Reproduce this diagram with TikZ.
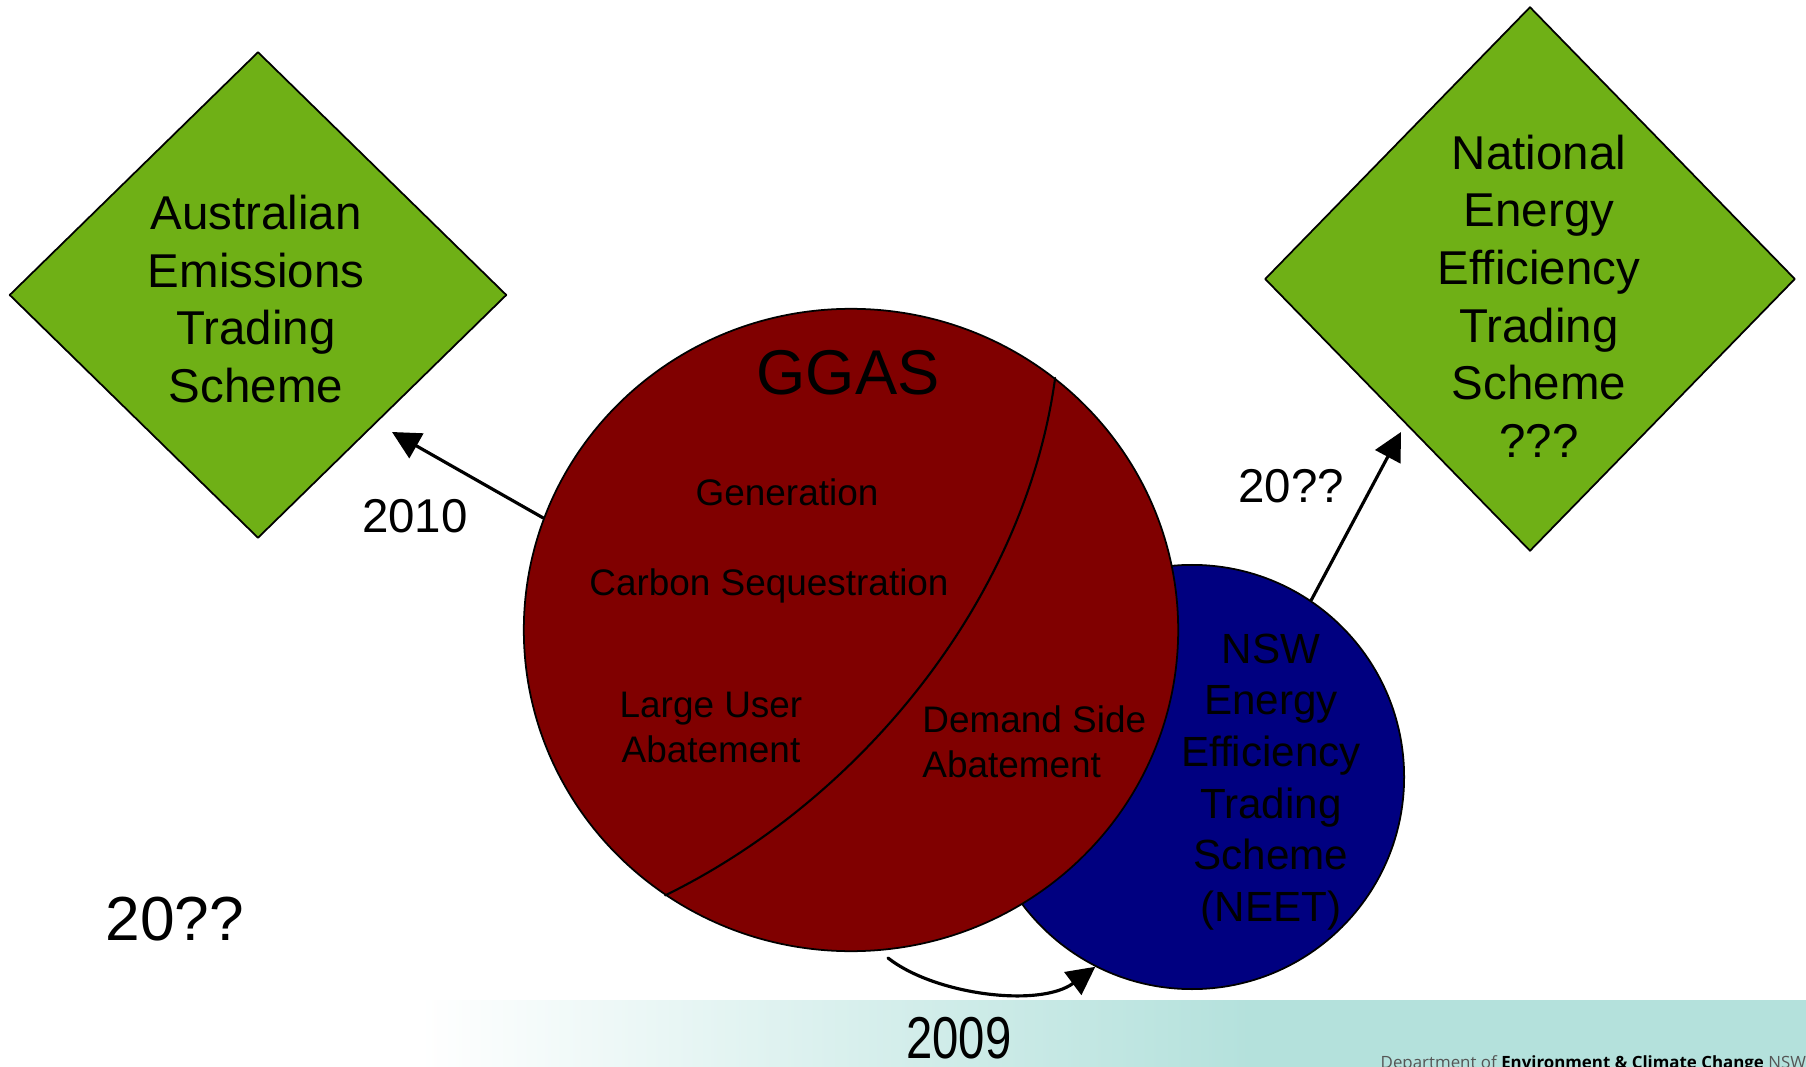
\documentclass[tikz,border=0pt]{standalone}
\usepackage{fontspec}
\setmainfont{Liberation Sans}
\newfontfamily\deptfont{Open Sans}
\usetikzlibrary{shapes.geometric,arrows.meta}
\definecolor{ggasred}{RGB}{128,0,0}
\definecolor{neetblue}{RGB}{0,0,128}
\definecolor{schemegreen}{RGB}{111,176,22}
\definecolor{barteal}{RGB}{180,225,220}
\definecolor{deptgrey}{RGB}{85,85,85}

\begin{document}
\begin{tikzpicture}[line cap=round, line join=round, x=0.01cm, y=-0.01cm,
    scheme/.style={diamond, draw=black, line width=0.5pt, fill=schemegreen, inner sep=0pt},
    big/.style={font=\fontsize{13.5}{16.4}\selectfont, align=center},
    small/.style={font=\fontsize{10.5}{12.8}\selectfont, align=center},
    move/.style={-{Triangle[length=8pt,width=8pt]}, line width=0.9pt}]
                \useasboundingbox (0,0) rectangle (1806,1067);
                % bottom bar
                \shade[left color=white, right color=barteal] (420,1000) rectangle (1250,1067);
                \fill[barteal] (1250,1000) rectangle (1806,1067);
                \node[anchor=base west, inner sep=0pt, font=\deptfont\fontsize{4.8}{5}\selectfont] (dept) at (1380,1068)
                    {\textcolor{deptgrey}{Department of} \textbf{Environment \& Climate Change} \textcolor{deptgrey}{NSW}};
                % schemes
                \node[scheme, minimum width=4.97cm, minimum height=4.86cm] (aets) at (258,295) {};
                \node[scheme, minimum width=5.30cm, minimum height=5.44cm] (nets) at (1530,279) {};
                \node[circle, draw=black, line width=0.5pt, fill=neetblue, minimum size=4.24cm] (neet) at (1192,777) {};
                \node[ellipse, draw=black, line width=0.5pt, fill=ggasred, minimum width=6.54cm, minimum height=6.42cm] (ggas) at (851,630) {};
                \draw[line width=0.6pt] (ggas.51) .. controls (1025,600) and (860,800) .. (ggas.235);
                % texts
                \node[big] (aetstxt) at (256,299) {Australian\\Emissions\\Trading\\Scheme};
                \node[big] (netstxt) at (1539,296) {National\\Energy\\Efficiency\\Trading\\Scheme\\???};
                \node[align=center, font=\fontsize{12}{14.7}\selectfont] (neettxt) at (1271,782) {NSW\\Energy\\Efficiency\\Trading\\Scheme\\(NEET)};
                \node[anchor=base, font=\fontsize{18}{20}\selectfont] (ggastxt) at (848,395) {GGAS};
                \foreach \name/\pos/\txt in {gen/{787,505}/Generation, carbon/{769,595}/Carbon Sequestration}
                    \node[small, anchor=base] (\name) at (\pos) {\txt};
                \node[small] (large) at (711,727) {Large User\\Abatement};
                \node[small, align=left, anchor=west] (demand) at (910,742) {Demand Side\\Abatement};
                % years
                \node[big, anchor=base] (y2010) at (415,532) {2010};
                \node[big, anchor=base] (y20a) at (1291,502) {20??};
                \node[anchor=base, font=\fontsize{17.7}{20}\selectfont] (y20b) at (175,940) {20??};
                \node[anchor=base, inner sep=0pt, font=\fontsize{16.8}{20}\selectfont, xscale=0.8] (y2009) at (959,1058) {2009};
                % moves
                \coordinate (a) at (392,432);
                \coordinate (b) at (1401,432);
                \coordinate (c) at (888,958);
                \draw[move] (ggas.160) -- (a);
                \draw[move] (neet.56) -- (b);
                \draw[move] (c) .. controls (935,995) and (1040,1008) .. (neet.243);
            \end{tikzpicture}
\end{document}
